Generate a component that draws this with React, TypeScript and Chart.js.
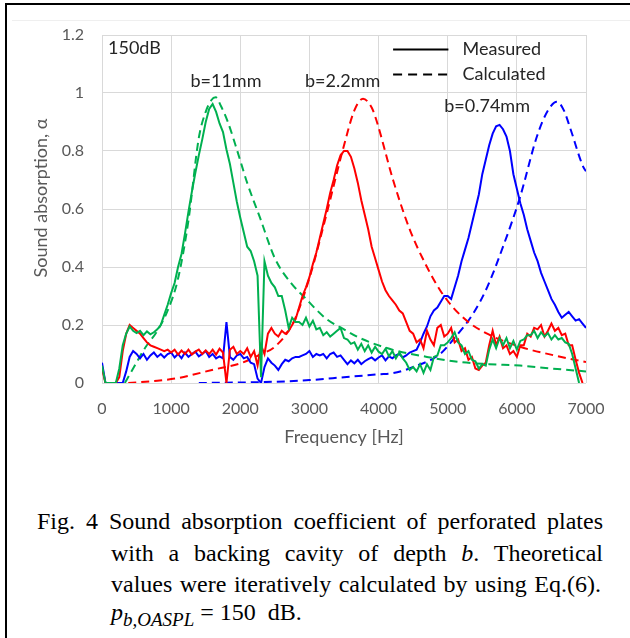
import React, { useEffect, useRef } from "react";
import { Chart, registerables } from "chart.js";

Chart.register(...registerables);

// ---------- data ----------
const measuredFreq = [
  0, 50, 100, 150, 200, 250, 300, 350, 400, 450,
  500, 550, 600, 650, 700, 750, 800, 850, 900, 950,
  1000, 1050, 1100, 1150, 1200, 1250, 1300, 1350, 1400, 1450,
  1500, 1550, 1600, 1650, 1700, 1750, 1800, 1850, 1900, 1950,
  2000, 2050, 2100, 2150, 2200, 2250, 2300, 2350, 2400, 2450,
  2500, 2550, 2600, 2650, 2700, 2750, 2800, 2850, 2900, 2950,
  3000, 3050, 3100, 3150, 3200, 3250, 3300, 3350, 3400, 3450,
  3500, 3550, 3600, 3650, 3700, 3750, 3800, 3850, 3900, 3950,
  4000, 4050, 4100, 4150, 4200, 4250, 4300, 4350, 4400, 4450,
  4500, 4550, 4600, 4650, 4700, 4750, 4800, 4850, 4900, 4950,
  5000, 5050, 5100, 5150, 5200, 5250, 5300, 5350, 5400, 5450,
  5500, 5550, 5600, 5650, 5700, 5750, 5800, 5850, 5900, 5950,
  6000, 6050, 6100, 6150, 6200, 6250, 6300, 6350, 6400, 6450,
  6500, 6550, 6600, 6650, 6700, 6750, 6800, 6850, 6900, 6950,
  7000,
];

// b = 11 mm, measured
const measured11 = [
  0.06, 0, 0, 0, 0, 0.05, 0.13, 0.17, 0.195, 0.18,
  0.172, 0.18, 0.165, 0.178, 0.168, 0.175, 0.185, 0.2, 0.235, 0.27,
  0.31, 0.345, 0.4, 0.445, 0.515, 0.59, 0.66, 0.725, 0.785, 0.84,
  0.9, 0.945, 0.962, 0.935, 0.895, 0.865, 0.805, 0.755, 0.69, 0.625,
  0.57, 0.52, 0.47, 0.455, 0.42, 0.37, 0.02, 0.42, 0.37, 0.345,
  0.33, 0.3, 0.3, 0.25, 0.19, 0.225, 0.21, 0.21, 0.2, 0.225,
  0.195, 0.215, 0.185, 0.19, 0.165, 0.175, 0.16, 0.17, 0.18, 0.19,
  0.155, 0.15, 0.135, 0.14, 0.115, 0.135, 0.11, 0.13, 0.105, 0.125,
  0.108, 0.1, 0.118, 0.092, 0.11, 0.085, 0.105, 0.085, 0.07, 0.045,
  0.055, 0.04, 0.065, 0.035, 0.065, 0.045, 0.09, 0.095, 0.13, 0.13,
  0.14, 0.155, 0.175, 0.14, 0.13, 0.1, 0.11, 0.08, 0.075, 0.05,
  0.065, 0.06, 0.115, 0.15, 0.12, 0.155, 0.13, 0.155, 0.12, 0.145,
  0.115, 0.145, 0.15, 0.165, 0.165, 0.18, 0.155, 0.175, 0.16, 0.172,
  0.15, 0.165, 0.15, 0.155, 0.14, 0.135, 0.1, 0.05, 0, null,
  null,
];

// b = 2.2 mm, measured
const measured22 = [
  0.05, 0, 0, 0, 0, 0.02, 0.11, 0.17, 0.2, 0.19,
  0.18, 0.17, 0.155, 0.14, 0.13, 0.125, 0.12, 0.115, 0.11, 0.115,
  0.105, 0.115, 0.098, 0.112, 0.1, 0.115, 0.098, 0.108, 0.115, 0.1,
  0.112, 0.1, 0.115, 0.098, 0.118, 0.105, 0, 0.115, 0.125, 0.1,
  0.11, 0.1, 0.12, 0.09, 0.11, 0.06, 0.13, 0.1, 0.17, 0.19,
  0.17, 0.16, 0.18, 0.17, 0.18, 0.2, 0.22, 0.26, 0.3, 0.33,
  0.365, 0.41, 0.45, 0.5, 0.55, 0.6, 0.655, 0.7, 0.75, 0.785,
  0.8, 0.8, 0.78, 0.74, 0.69, 0.63, 0.58, 0.53, 0.47, 0.43,
  0.39, 0.35, 0.32, 0.3, 0.285, 0.27, 0.25, 0.24, 0.21, 0.18,
  0.17, 0.14, 0.15, 0.12, 0.18, 0.15, 0.13, 0.19, 0.2, 0.16,
  0.17, 0.19, 0.14, 0.15, 0.11, 0.12, 0.08, 0.09, 0.05, 0.045,
  0.06, 0.07, 0.13, 0.18, 0.13, 0.16, 0.12, 0.13, 0.1, 0.11,
  0.09, 0.13, 0.13, 0.17, 0.16, 0.19, 0.185, 0.2, 0.16, 0.18,
  0.205, 0.18, 0.19, 0.165, 0.17, 0.13, 0.13, 0.08, 0.035, 0,
  null,
];

// b = 0.74 mm, measured
const measured074 = [
  0.07, 0, 0, 0, 0, 0, 0, 0.04, 0.09, 0.11,
  0.1, 0.085, 0.1, 0.08, 0.095, 0.105, 0.09, 0.1, 0.088, 0.1,
  0.105, 0.088, 0.1, 0.085, 0.105, 0.09, 0.1, 0.108, 0.092, 0.1,
  0.11, 0.09, 0.1, 0.085, 0.092, 0.085, 0.21, 0.09, 0.08, 0.095,
  0.1, 0.085, 0.09, 0.07, 0.065, 0.015, 0, 0.055, 0.085, 0.07,
  0.06, 0.045, 0.065, 0.08, 0.075, 0.085, 0.09, 0.09, 0.095, 0.1,
  0.11, 0.09, 0.1, 0.095, 0.1, 0.085, 0.1, 0.105, 0.09, 0.095,
  0.08, 0.065, 0.078, 0.068, 0.08, 0.065, 0.075, 0.082, 0.088, 0.078,
  0.088, 0.095, 0.078, 0.092, 0.085, 0.095, 0.1, 0.088, 0.095, 0.105,
  0.11, 0.115, 0.14, 0.17, 0.195, 0.23, 0.25, 0.26, 0.28, 0.3,
  0.3, 0.29, 0.33, 0.37, 0.42, 0.46, 0.5, 0.55, 0.6, 0.65,
  0.72, 0.77, 0.82, 0.86, 0.885, 0.89, 0.875, 0.85, 0.8, 0.72,
  0.67, 0.62, 0.58, 0.53, 0.49, 0.45, 0.42, 0.38, 0.35, 0.32,
  0.29, 0.27, 0.245, 0.225, 0.235, 0.245, 0.23, 0.215, 0.22, 0.205,
  0.19,
];

// calculated curves
const calc11Freq = [330, 450, 620, 800, 950, 1100, 1250, 1400, 1500, 1580, 1645, 1720, 1820, 1970, 2100, 2285, 2500, 2750, 2910, 3250, 3500, 3730, 4210, 4700, 5180, 5600, 6045, 6500, 7000];
const calc11 = [0, 0.05, 0.12, 0.18, 0.25, 0.36, 0.56, 0.845, 0.935, 0.975, 0.985, 0.955, 0.9, 0.79, 0.69, 0.57, 0.43, 0.34, 0.3, 0.22, 0.185, 0.155, 0.114, 0.09, 0.072, 0.065, 0.06, 0.05, 0.04];

const calc22Freq = [380, 800, 1100, 1590, 2030, 2300, 2500, 2770, 3010, 3250, 3490, 3650, 3775, 3900, 3970, 4210, 4450, 4700, 4890, 5080, 5300, 5570, 6045, 6525, 7000];
const calc22 = [0, 0.008, 0.017, 0.045, 0.07, 0.1, 0.125, 0.21, 0.37, 0.585, 0.81, 0.94, 0.98, 0.95, 0.905, 0.7, 0.53, 0.4, 0.32, 0.26, 0.21, 0.17, 0.125, 0.096, 0.072];

const calc074Freq = [1400, 2300, 2700, 3000, 3500, 4000, 4210, 4500, 4890, 5080, 5370, 5570, 5800, 6045, 6290, 6450, 6580, 6680, 6770, 6960, 7000];
const calc074 = [0, 0.003, 0.006, 0.01, 0.02, 0.03, 0.034, 0.055, 0.1, 0.15, 0.24, 0.33, 0.47, 0.64, 0.85, 0.94, 0.97, 0.94, 0.88, 0.745, 0.73];

const xTicks = [0, 1000, 2000, 3000, 4000, 5000, 6000, 7000];
const yTicks = [0, 0.2, 0.4, 0.6, 0.8, 1, 1.2];
const yTickLabels = ["0", "0.2", "0.4", "0.6", "0.8", "1", "1.2"];

const seriesColors = ["#00B050", "#FF0000", "#0000FF"];
const legendLabels = ["Measured", "Calculated"];
const annotationTexts = ["150dB", "b=11mm", "b=2.2mm", "b=0.74mm"];
const xTitle = "Frequency [Hz]";
const yTitle = "Sound absorption, α";

// ---------- layout/style ----------
const ANNOT_POS = [
  { f: 87, a: 1.155, align: "left" },
  { f: 1793, a: 1.04, align: "center" },
  { f: 3480, a: 1.04, align: "center" },
  { f: 5570, a: 0.955, align: "center" },
];
const LEGEND_POS = { x0: 4210, x1: 5010, tx: 5215, a: [1.152, 1.066] };
const Y_TITLE_POS = { x: 41.5, y: 198 };

const TICK_COLOR = "#595959";
const FONT = "Lato";

function pts(xs: number[], ys: (number | null)[]) {
  return xs.map((x, i) => ({ x, y: ys[i] }));
}

const overlayPlugin = {
  id: "overlay",
  afterDatasetsDraw(chart: any) {
    const { ctx } = chart;
    const x = chart.scales.x;
    const y = chart.scales.y;
    ctx.save();
    ctx.font = `18px ${FONT}`;
    ctx.fillStyle = "#262626";
    ctx.textBaseline = "middle";
    annotationTexts.forEach((t, i) => {
      const p = ANNOT_POS[i];
      ctx.textAlign = p.align;
      ctx.fillText(t, x.getPixelForValue(p.f), y.getPixelForValue(p.a));
    });
    // legend
    legendLabels.forEach((t, i) => {
      const py = Math.round(y.getPixelForValue(LEGEND_POS.a[i])) + 0.5;
      ctx.beginPath();
      ctx.lineWidth = 2;
      ctx.strokeStyle = "#000";
      ctx.setLineDash(i === 0 ? [] : [9, 6]);
      ctx.moveTo(x.getPixelForValue(LEGEND_POS.x0), py);
      ctx.lineTo(x.getPixelForValue(LEGEND_POS.x1), py);
      ctx.stroke();
      ctx.setLineDash([]);
      ctx.textAlign = "left";
      ctx.fillStyle = "#262626";
      ctx.fillText(t, x.getPixelForValue(LEGEND_POS.tx), py);
    });
    // y-axis title
    ctx.save();
    ctx.translate(Y_TITLE_POS.x, Y_TITLE_POS.y);
    ctx.rotate(-Math.PI / 2);
    ctx.textAlign = "center";
    ctx.fillStyle = TICK_COLOR;
    ctx.fillText(yTitle, 0, 0);
    ctx.restore();
    ctx.restore();
  },
};

export default function App() {
  const ref = useRef<HTMLCanvasElement | null>(null);

  useEffect(() => {
    if (!ref.current) return;
    const measured = [measured11, measured22, measured074];
    const calcF = [calc11Freq, calc22Freq, calc074Freq];
    const calcV = [calc11, calc22, calc074];
    const datasets: any[] = [];
    measured.forEach((m, i) => {
      datasets.push({
        data: pts(measuredFreq, m),
        borderColor: seriesColors[i],
        borderWidth: 2,
        pointRadius: 0,
        tension: 0,
        spanGaps: false,
        order: i,
      });
    });
    calcV.forEach((v, i) => {
      datasets.push({
        data: pts(calcF[i], v),
        borderColor: seriesColors[i],
        borderWidth: 2,
        borderDash: [8, 5],
        pointRadius: 0,
        cubicInterpolationMode: "monotone",
        order: 3 + i,
      });
    });

    const chart = new Chart(ref.current, {
      type: "line",
      data: { datasets },
      options: {
        animation: false,
        responsive: false,
        maintainAspectRatio: false,
        devicePixelRatio: 1,
        layout: { padding: { left: 0, top: 35, right: 44, bottom: 0 } },
        plugins: { legend: { display: false }, tooltip: { enabled: false } },
        scales: {
          x: {
            type: "linear",
            min: 0,
            max: 7000,
            afterBuildTicks: (s: any) => {
              s.ticks = xTicks.map((v) => ({ value: v }));
            },
            afterFit: (s: any) => {
              s.height = 77;
            },
            grid: { color: "#D9D9D9", lineWidth: 1, drawTicks: false },
            border: { display: false },
            ticks: {
              color: TICK_COLOR,
              font: { family: FONT, size: 16 },
              padding: 16,
              maxRotation: 0,
              callback: (v: any) => String(v),
            },
            title: {
              display: true,
              text: xTitle,
              color: TICK_COLOR,
              font: { family: FONT, size: 18 },
              padding: { top: 0, bottom: 12 },
            },
          },
          y: {
            type: "linear",
            min: 0,
            max: 1.2,
            afterBuildTicks: (s: any) => {
              s.ticks = yTicks.map((v) => ({ value: v }));
            },
            afterFit: (s: any) => {
              s.width = 102;
            },
            grid: { color: "#D9D9D9", lineWidth: 1, drawTicks: false },
            border: { display: false },
            ticks: {
              color: TICK_COLOR,
              font: { family: FONT, size: 16 },
              padding: 18,
              callback: (_v: any, i: number) => yTickLabels[i],
            },
            title: { display: false },
          },
        },
      },
      plugins: [overlayPlugin],
    });
    return () => chart.destroy();
  }, []);

  const serif = '"Liberation Serif", "Times New Roman", serif';
  const lineBase: React.CSSProperties = {
    position: "absolute",
    font: `24px ${serif}`,
    lineHeight: "30px",
    whiteSpace: "nowrap",
    color: "#000",
  };
  const just: React.CSSProperties = {
    textAlign: "justify",
    textAlignLast: "justify",
    whiteSpace: "normal",
  };

  return (
    <div style={{ position: "absolute", left: 0, top: 0, width: 630, height: 638, background: "#fff", overflow: "hidden" }}>
      <canvas ref={ref} width={630} height={460} style={{ position: "absolute", left: 0, top: 0, width: 630, height: 460 }} />
      <div style={{ position: "absolute", left: 12, top: 20, width: 618, height: 1, background: "#EFEFEF" }} />
      <div style={{ position: "absolute", left: 5, top: 3, width: 625, height: 2, background: "#000" }} />
      <div style={{ position: "absolute", left: 5, top: 3, width: 2, height: 635, background: "#000" }} />
      <div style={{ ...lineBase, ...just, left: 37, top: 506, width: 566 }}>
        Fig. 4 Sound absorption coefficient of perforated plates
      </div>
      <div style={{ ...lineBase, ...just, left: 111, top: 538, width: 492 }}>
        with a backing cavity of depth <i>b</i>. Theoretical
      </div>
      <div style={{ ...lineBase, ...just, left: 111, top: 569, width: 490 }}>
        values were iteratively calculated by using Eq.(6).
      </div>
      <div style={{ ...lineBase, left: 111, top: 597 }}>
        <i>p</i>
        <span style={{ fontStyle: "italic", fontSize: 19, position: "relative", top: 6 }}>b,OASPL</span>
        {" = 150\u00a0 dB."}
      </div>
    </div>
  );
}
